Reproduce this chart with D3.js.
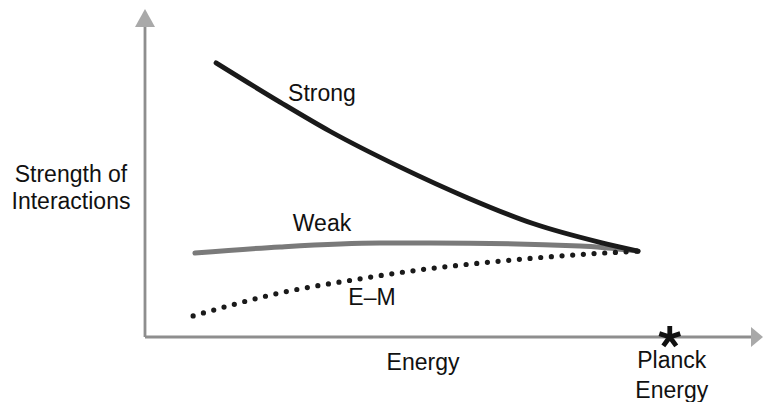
<!DOCTYPE html>
<html>
<head>
<meta charset="utf-8">
<script src="https://cdn.jsdelivr.net/npm/d3@7"></script>
<style>
  html, body { margin: 0; padding: 0; background: #fff; }
  svg { display: block; }
  text { font-family: "Liberation Sans", Arial, Helvetica, sans-serif; fill: #111; }
</style>
</head>
<body>
<svg id="chart" width="764" height="402"></svg>
<script>
// Energy (0..100 axis units) vs strength (0..100)
const strongEnergy = [12.1, 23, 31.5, 43.4, 54.9, 66.1, 77.5, 84];
const strongValues = [84.6, 72.5, 63.5, 52.5, 43, 35, 29.2, 26.5];
const weakEnergy   = [8.5, 23, 40, 48.6, 74.1, 84];
const weakValues   = [25.9, 27.8, 29.0, 29.0, 28.1, 26.5];
const emEnergy     = [8.2, 23, 35.4, 48, 57, 72.9, 84];
const emValues     = [6.5, 13.6, 17.6, 21, 22.8, 25.3, 26.5];
const planckEnergy = 89.4;
const labels = ["Strong", "Weak", "E\u2013M"];
const yTitle = ["Strength of", "Interactions"];
const xTitle = "Energy";
const planckLabel = ["Planck", "Energy"];

const svg = d3.select("#chart");
const x = d3.scaleLinear().domain([0, 100]).range([145, 732]);
const y = d3.scaleLinear().domain([0, 100]).range([337, 13]);

const axisColor = "#8e8e8e", headColor = "#a9a9a9";

// axes lines
svg.append("line").attr("x1", x(0)).attr("x2", x(0)).attr("y1", y(0)).attr("y2", 24)
  .attr("stroke", axisColor).attr("stroke-width", 2.8);
svg.append("line").attr("x1", x(0)).attr("x2", 754).attr("y1", y(0)).attr("y2", y(0))
  .attr("stroke", axisColor).attr("stroke-width", 2.8);
// arrow heads
svg.append("path").attr("d", `M${x(0)},9 L${x(0)+10},27 L${x(0)-10},27 Z`).attr("fill", headColor);
svg.append("path").attr("d", `M763,${y(0)} L751,${y(0)-10} L751,${y(0)+10} Z`).attr("fill", headColor);

const line = d3.line().x(d => x(d[0])).y(d => y(d[1])).curve(d3.curveMonotoneX);

// Weak
svg.append("path").datum(d3.zip(weakEnergy, weakValues)).attr("d", line)
  .attr("fill", "none").attr("stroke", "#7a7a7a").attr("stroke-width", 5).attr("stroke-linecap", "round");
// E-M dotted
svg.append("path").datum(d3.zip(emEnergy, emValues)).attr("d", line)
  .attr("fill", "none").attr("stroke", "#1a1a1a").attr("stroke-width", 5.2)
  .attr("stroke-linecap", "round").attr("stroke-dasharray", "0 10.7");
// Strong
svg.append("path").datum(d3.zip(strongEnergy, strongValues)).attr("d", line)
  .attr("fill", "none").attr("stroke", "#1a1a1a").attr("stroke-width", 4.8).attr("stroke-linecap", "round");

// Planck star (5 arms)
const sx = x(planckEnergy), sy = y(0), r = 11;
let starPath = "";
for (let i = 0; i < 5; i++) {
  const a = -Math.PI / 2 + i * 2 * Math.PI / 5;
  starPath += `M${sx},${sy} L${sx + r * Math.cos(a)},${sy + r * Math.sin(a)} `;
}
svg.append("path").attr("d", starPath).attr("stroke", "#111").attr("stroke-width", 4.8).attr("fill", "none");

const fs = 23;
// curve labels
svg.append("text").attr("x", 322).attr("y", 101).attr("text-anchor", "middle").attr("font-size", fs).text(labels[0]);
svg.append("text").attr("x", 322).attr("y", 231).attr("text-anchor", "middle").attr("font-size", fs).text(labels[1]);
svg.append("text").attr("x", 372).attr("y", 305).attr("text-anchor", "middle").attr("font-size", fs).text(labels[2]);

// y title
yTitle.forEach((t, i) => svg.append("text").attr("x", 71).attr("y", 182 + i * 27)
  .attr("text-anchor", "middle").attr("font-size", fs).text(t));
// x title
svg.append("text").attr("x", 423).attr("y", 370).attr("text-anchor", "middle").attr("font-size", fs).text(xTitle);
// Planck label
planckLabel.forEach((t, i) => svg.append("text").attr("x", sx + 2).attr("y", 368 + i * 30)
  .attr("text-anchor", "middle").attr("font-size", fs).text(t));
</script>
</body>
</html>
